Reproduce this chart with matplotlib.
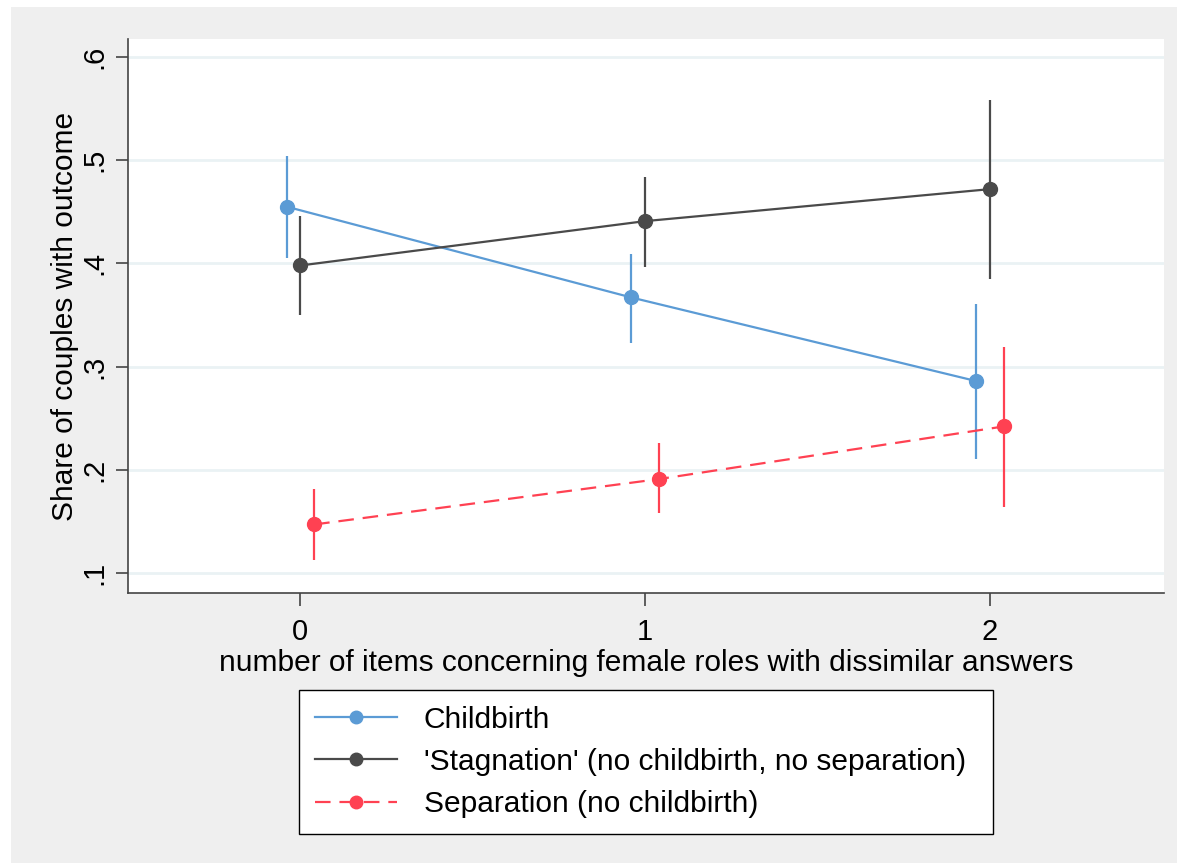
import matplotlib.pyplot as plt
from matplotlib.patches import Rectangle

plt.rcParams['font.family'] = ['Liberation Sans', 'DejaVu Sans']

# x categories and small horizontal offsets (as in the original dodge)
categories = [0, 1, 2]
labels = ["Childbirth",
          "'Stagnation' (no childbirth, no separation)",
          "Separation (no childbirth)"]
offsets = [-0.04, 0.0, 0.04]

# point estimates and confidence bounds
childbirth = [0.455, 0.367, 0.286]
childbirth_lo = [0.405, 0.323, 0.210]
childbirth_hi = [0.504, 0.409, 0.361]

stagnation = [0.398, 0.441, 0.472]
stagnation_lo = [0.350, 0.397, 0.385]
stagnation_hi = [0.446, 0.484, 0.558]

separation = [0.147, 0.191, 0.242]
separation_lo = [0.113, 0.158, 0.164]
separation_hi = [0.181, 0.226, 0.319]

colors = ['#5b9bd5', '#4a4a4a', '#ff4152']
styles = ['-', '-', (0, (7, 4))]

W, H = 1177, 863
fig = plt.figure(figsize=(W / 100, H / 100), dpi=100)
fig.patch.set_facecolor('white')
fig.add_artist(Rectangle((11 / W, 0), 1 - 11 / W, 1 - 7 / H,
                         transform=fig.transFigure, facecolor='#efefef',
                         edgecolor='none', zorder=0))

ax = fig.add_axes([128 / W, (H - 593) / H, (1164 - 128) / W, (593 - 39) / H])
ax.set_facecolor('white')

series = [(childbirth, childbirth_lo, childbirth_hi),
          (stagnation, stagnation_lo, stagnation_hi),
          (separation, separation_lo, separation_hi)]

for (est, lo, hi), off, col, ls, lab in zip(series, offsets, colors, styles, labels):
    xs = [c + off for c in categories]
    ax.vlines(xs, lo, hi, color=col, linewidth=1.6, zorder=3)
    ax.plot(xs, est, color=col, linestyle=ls, linewidth=1.6, marker='o',
            markersize=10, label=lab, zorder=4)

ax.set_xlim(-0.5, 2.505)
ax.set_ylim(0.0806, 0.6175)
ax.set_xticks(categories)
ax.set_yticks([0.1, 0.2, 0.3, 0.4, 0.5, 0.6])
ax.set_yticklabels(['.1', '.2', '.3', '.4', '.5', '.6'], rotation=90, va='center')
ax.tick_params(axis='both', length=9, width=1.2, color='#444444', labelsize=21)
ax.tick_params(axis='x', pad=9)
ax.tick_params(axis='y', pad=5)
ax.grid(axis='y', color='#eaf2f4', linewidth=2)
ax.set_axisbelow(True)

for s in ['top', 'right']:
    ax.spines[s].set_visible(False)
for s in ['left', 'bottom']:
    ax.spines[s].set_color('#444444')
    ax.spines[s].set_linewidth(1.2)

ax.set_xlabel('number of items concerning female roles with dissimilar answers',
              fontsize=21.5, labelpad=2)
ax.set_ylabel('Share of couples with outcome', fontsize=21.5, labelpad=1)

# legend frame spans x 299..993, top at y 690 (pixels)
leg = ax.legend(loc='upper left', mode='expand',
                bbox_to_anchor=(299 / W, (H - 829) / H, (993 - 299) / W, (829 - 690) / H),
                bbox_transform=fig.transFigure, fontsize=21.5, frameon=True,
                fancybox=False, edgecolor='black', handlelength=2.75,
                handletextpad=0.9, borderpad=0.52, labelspacing=0.48,
                borderaxespad=0, markerscale=0.9)
leg.get_frame().set_linewidth(1.0)
leg.get_frame().set_facecolor('white')
leg.get_frame().set_alpha(1)

fig.savefig('out.png', dpi=100, facecolor=fig.get_facecolor())
